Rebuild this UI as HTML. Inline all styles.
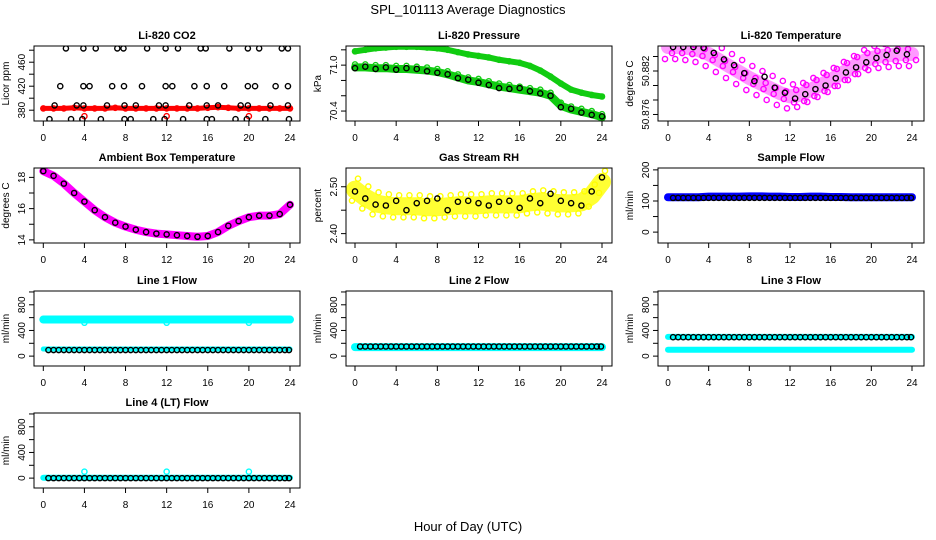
<!DOCTYPE html>
<html><head><meta charset="utf-8">
<style>
html,body{margin:0;padding:0;background:#fff;}
svg{display:block;font-family:"Liberation Sans",sans-serif;}
</style></head>
<body>
<svg id="c" width="936" height="540" viewBox="0 0 936 540">
<text x="468" y="14" font-size="13" text-anchor="middle">SPL_101113  Average Diagnostics</text>
<text x="468" y="531" font-size="13" text-anchor="middle">Hour of Day (UTC)</text>
</svg>
<script>
// ---- data ----
const hours = [0,1,2,3,4,5,6,7,8,9,10,11,12,13,14,15,16,17,18,19,20,21,22,23,24];
const halfHours = [0.5,1,1.5,2,2.5,3,3.5,4,4.5,5,5.5,6,6.5,7,7.5,8,8.5,9,9.5,10,10.5,11,11.5,12,12.5,13,13.5,14,14.5,15,15.5,16,16.5,17,17.5,18,18.5,19,19.5,20,20.5,21,21.5,22,22.5,23,23.5,23.9];
const xTicks = [0,4,8,12,16,20,24];

const co2Red = [383,383,383,384,383,383,383,384,383,383,383,383,383,383,383,383,384,385,384,383,383,383,383,383,383];
const co2RedOutX = [4,12,20];
const co2RedOutY = [370,370,370];
const co2BlackX = [2.2,3.9,5.1,7.2,7.8,10.1,11.9,13.1,15.3,15.8,18.1,19.9,21.0,23.2,23.8,
 1.65,3.9,4.5,6.7,7.85,9.6,11.9,12.55,14.7,15.9,17.6,19.9,20.6,22.6,23.8,
 1.1,3.25,3.9,6.2,7.9,9.0,11.25,11.9,14.2,15.9,17.0,19.2,19.9,22.1,23.8,
 0.6,2.7,3.8,5.6,7.9,8.5,10.7,11.8,13.6,15.9,16.4,18.7,19.8,21.6,23.9];
const co2BlackY = [483,483,483,483,483,483,483,483,483,483,483,483,483,483,483,
 420,420,420,420,420,420,420,420,420,420,420,420,420,420,420,
 388,388,388,388,388,388,388,388,388,388,388,388,388,388,388,
 365,365,365,365,365,365,365,365,365,365,365,365,365,365,365];

const presUpper = [71.18,71.2,71.22,71.23,71.24,71.24,71.24,71.23,71.22,71.2,71.17,71.14,71.12,71.1,71.07,71.05,71.03,70.99,70.93,70.85,70.76,70.68,70.64,70.61,70.59];
const presLower = [70.97,70.97,70.96,70.96,70.95,70.95,70.94,70.93,70.91,70.88,70.84,70.8,70.78,70.75,70.72,70.7,70.68,70.66,70.64,70.6,70.47,70.42,70.39,70.36,70.32];
const presBlack = [70.96,70.98,70.95,70.97,70.94,70.96,70.95,70.92,70.9,70.88,70.83,70.81,70.77,70.74,70.7,70.69,70.7,70.66,70.63,70.6,70.45,70.43,70.38,70.35,70.33];

const tempMag = [50.88531,50.88531,50.88517,50.88490,50.88434,50.88352,50.88269,50.88186,50.88103,50.88034,50.87966,50.87897,50.87850,50.87869,50.87938,50.88007,50.88076,50.88159,50.88241,50.88324,50.88379,50.88407,50.88421,50.88434,50.88434];
const tempBlack = [50.8853,50.8853,50.8853,50.8852,50.8845,50.8836,50.8828,50.8817,50.8806,50.8812,50.8797,50.8790,50.8782,50.8788,50.8795,50.8800,50.8810,50.8818,50.8825,50.8832,50.8838,50.8842,50.8848,50.8843,50.8840];

const ambient = [18.4,18.1,17.6,17.0,16.45,15.9,15.45,15.1,14.85,14.65,14.5,14.4,14.35,14.3,14.25,14.2,14.25,14.5,14.9,15.2,15.45,15.55,15.55,15.65,16.25];

const rhYellow = [2.4938,2.4771,2.4646,2.4604,2.4583,2.4583,2.4583,2.4563,2.4563,2.4583,2.4604,2.4604,2.4604,2.4625,2.4625,2.4625,2.4625,2.4667,2.4688,2.4667,2.4646,2.4646,2.4667,2.4813,2.5104];
const rhBlack = [2.49,2.475,2.462,2.46,2.47,2.45,2.465,2.47,2.475,2.45,2.468,2.47,2.465,2.46,2.468,2.47,2.455,2.475,2.465,2.485,2.47,2.465,2.46,2.49,2.52];

const sampleBlue = [112,112,112,112,114,114,114,114,115,115,114,114,113,113,114,114,113,113,112,112,112,112,112,112,112];
const sampleBlack = 110;

const line1Cyan = 570, line1CyanLow = 110, line1Black = 95;
const line1OutX = [4,12,20], line1OutY = [520,520,520];
const line2Cyan = 140, line2Black = 150;
const line3CyanHigh = 300, line3CyanLow = 100, line3Black = 295;
const line4Cyan = 5, line4Black = 0;
const line4OutX = [4,12,20], line4OutY = [100,100,100];

// ---- layout ----
const svg = document.getElementById('c');
const NS = 'http://www.w3.org/2000/svg';
const cols = [{l:34,r:300,x0:43.3,x24:290},{l:346,r:612,x0:355,x24:602},{l:658,r:924,x0:668,x24:912}];
const rows = [46,168,291,413];
const H = 75;
function mk(tag, attrs, parent){const e=document.createElementNS(NS,tag);for(const k in attrs)e.setAttribute(k,attrs[k]);(parent||svg).appendChild(e);return e;}

function panel(name, ci, ri, title, ylab, ymin, ymax, yticks, ylabels){
  const c = cols[ci], top = rows[ri], bot = top + H;
  const g = mk('g',{});
  
  
  const X = h => c.x0 + (c.x24 - c.x0) * h / 24;
  const Y = v => bot - (v - ymin) / (ymax - ymin) * H;
  const clip = mk('clipPath',{id:'cl'+name},g);
  mk('rect',{x:c.l,y:top,width:c.r-c.l,height:H},clip);
  const data = mk('g',{'clip-path':'url(#cl'+name+')'},g);
  
  
  const box = mk('rect',{x:c.l,y:top,width:c.r-c.l,height:H,fill:'none',stroke:'#000','stroke-width':1},g);
  
  
  const t = mk('text',{x:(c.l+c.r)/2,y:top-7,'font-size':11,'font-weight':'bold','text-anchor':'middle'},g);
  t.textContent = title;
  
  
  const xa = mk('g',{},g);
  
  
  mk('line',{x1:X(0),x2:X(24),y1:bot,y2:bot,stroke:'#000'},xa);
  xTicks.forEach(h=>{
    mk('line',{x1:X(h),x2:X(h),y1:bot,y2:bot+5,stroke:'#000'},xa);
    const tl = mk('text',{x:X(h),y:bot+20,'font-size':10,'text-anchor':'middle'},xa);
    tl.textContent = h;
  });
  const ya = mk('g',{},g);
  
  
  yticks.forEach(v=>mk('line',{x1:c.l-5,x2:c.l,y1:Y(v),y2:Y(v),stroke:'#000'},ya));
  ylabels.forEach(v=>{
    const lx = c.l-9;
    const tl = mk('text',{x:lx,y:Y(v),'font-size':10,'text-anchor':'middle',transform:`rotate(-90 ${lx} ${Y(v)})`},ya);
    tl.textContent = v;
  });
  const yx = c.l-25, ym = (top+bot)/2;
  const yl = mk('text',{x:yx,y:ym,'font-size':10,'text-anchor':'middle',transform:`rotate(-90 ${yx} ${ym})`},g);
  yl.textContent = ylab;
  
  
  return {X,Y,data};
}
function band(p, xs, ys, color, w, op){
  const pts = xs.map((h,i)=>p.X(h)+','+p.Y(ys[i])).join(' ');
  const e = mk('polyline',{points:pts,fill:'none',stroke:color,'stroke-width':w,'stroke-linejoin':'round','stroke-linecap':'round',opacity:op||1},p.data);
  
  
}
function pts(p, xs, ys, color, dy, dx){
  xs.forEach((h,i)=>{
    const e = mk('circle',{cx:p.X(h)+(dx||0),cy:p.Y(ys[i])+(dy||0),r:2.6,fill:'none',stroke:color,'stroke-width':1.4},p.data);
    
    
  });
}
const fill = (arr,v)=>arr.map(()=>v);

// CO2
let p = panel('co2-panel',0,0,'Li-820 CO2','Licor ppm',362,487,[380,400,420,440,460,480],[380,420,460]);
band(p,hours,co2Red,'#f00',5);
pts(p,hours,co2Red,'#f00');
pts(p,co2RedOutX,co2RedOutY,'#f00');
pts(p,co2BlackX,co2BlackY,'#000');

// Pressure
p = panel('pressure-panel',1,0,'Li-820 Pressure','kPa',70.27,71.25,[70.4,70.6,70.8,71.0,71.2],['70.4','71.0']);
band(p,hours,presUpper,'#1c1',6);
band(p,hours,presLower,'#1c1',8);
pts(p,hours,presUpper,'#1c1');
pts(p,hours,presLower,'#1c1',-3);
pts(p,hours,presBlack,'#000');

// Li-820 temperature
p = panel('temperature-panel',2,0,'Li-820 Temperature','degrees C',50.8751,50.88545,[50.876,50.878,50.88,50.882,50.884],['50.876','50.882']);
band(p,hours,tempMag,'#f0f',14,0.4);
pts(p,hours,tempMag,'#f0f',-12,3);
pts(p,hours,tempMag,'#f0f',12,-3);
pts(p,hours,tempMag,'#f0f',-5,-4);
pts(p,hours,tempMag,'#f0f',6,4);
pts(p,halfHours.filter((h,i)=>i%2==0),tempBlack.slice(0,24),'#000');

// Ambient
p = panel('ambient-panel',0,1,'Ambient Box Temperature','degrees C',13.8,18.6,[14,15,16,17,18],[14,16,18]);
band(p,hours,ambient,'#f0f',8);
pts(p,hours,ambient,'#000');

// RH
p = panel('rh-panel',1,1,'Gas Stream RH','percent',2.38,2.54,[2.40,2.45,2.50],['2.40','2.50']);
band(p,hours,rhYellow,'#ff0',18,0.8);
pts(p,hours,rhYellow,'#ff0',-11,3);
pts(p,hours,rhYellow,'#ff0',11,-3);
pts(p,hours,rhBlack,'#000');

// Sample flow
p = panel('sample-flow-panel',2,1,'Sample Flow','ml/min',-35,206,[0,50,100,150,200],[0,100,200]);
band(p,hours,sampleBlue,'#00f',8);
pts(p,halfHours,fill(halfHours,sampleBlack),'#000');

const flowTicks=[0,200,400,600,800,1000], flowLabs=[0,400,800];
// Line 1
p = panel('line1-flow-panel',0,2,'Line 1 Flow','ml/min',-154,1015,flowTicks,flowLabs);
band(p,hours,fill(hours,line1Cyan),'#0ff',8);
band(p,hours,fill(hours,line1CyanLow),'#0ff',5);
pts(p,line1OutX,line1OutY,'#0ff');
pts(p,halfHours,fill(halfHours,line1Black),'#000');

// Line 2
p = panel('line2-flow-panel',1,2,'Line 2 Flow','ml/min',-154,1015,flowTicks,flowLabs);
band(p,hours,fill(hours,line2Cyan),'#0ff',8);
pts(p,halfHours,fill(halfHours,line2Black),'#000');

// Line 3
p = panel('line3-flow-panel',2,2,'Line 3 Flow','ml/min',-154,1015,flowTicks,flowLabs);
band(p,hours,fill(hours,line3CyanHigh),'#0ff',6);
band(p,hours,fill(hours,line3CyanLow),'#0ff',6);
pts(p,halfHours,fill(halfHours,line3Black),'#000');

// Line 4
p = panel('line4-flow-panel',0,3,'Line 4 (LT) Flow','ml/min',-154,1015,flowTicks,flowLabs);
band(p,hours,fill(hours,line4Cyan),'#0ff',6);
pts(p,line4OutX,line4OutY,'#0ff');
pts(p,halfHours,fill(halfHours,line4Black),'#000');
</script>
</body></html>
